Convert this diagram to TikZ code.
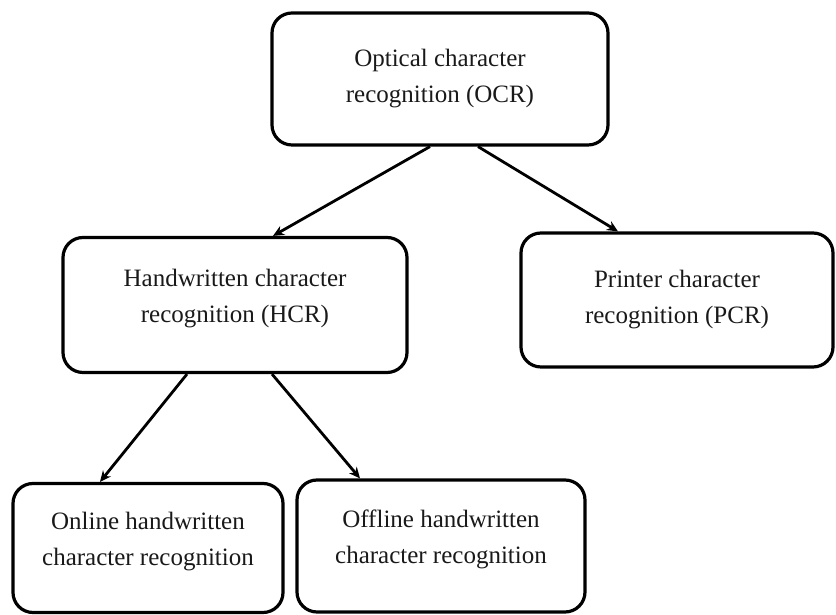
\documentclass[tikz,border=0pt]{standalone}
\usepackage{fontspec}
\setmainfont{Liberation Serif}
\usetikzlibrary{arrows.meta}

\tikzset{
    catbox/.style={draw, line width=3.2pt, rounded corners=20pt, align=center,
        font=\fontsize{25}{36}\selectfont, inner sep=0pt, text=black!90},
    catarrow/.style={line width=2.8pt, -{Stealth[length=11pt,width=10pt]}}
}

\begin{document}
\begin{tikzpicture}[x=1pt,y=1pt]
\useasboundingbox (0,0) rectangle (836,615);
% top level
\node[catbox, minimum width=336pt, minimum height=132pt] (ocr) at (440,536)
    {Optical character\\recognition (OCR)};
% second level
\node[catbox, minimum width=344pt, minimum height=135pt, text depth=19pt] (hcr) at (235,310)
    {Handwritten character\\recognition (HCR)};
\node[catbox, minimum width=312pt, minimum height=134pt] (pcr) at (677,315)
    {Printer character\\recognition (PCR)};
% third level
\node[catbox, minimum width=270pt, minimum height=129pt, text depth=19pt] (online) at (148,67)
    {Online handwritten\\character recognition};
\node[catbox, minimum width=288pt, minimum height=132pt, text depth=19pt] (offline) at (441,69)
    {Offline handwritten\\character recognition};

\draw[catarrow] ([xshift=-10pt]ocr.south) -- ([xshift=38pt]hcr.north);
\draw[catarrow] ([xshift=38pt]ocr.south) -- ([xshift=-59pt]pcr.north);
\draw[catarrow] ([xshift=-48pt]hcr.south) -- ([xshift=-48pt]online.north);
\draw[catarrow] ([xshift=37pt]hcr.south) -- ([xshift=-81pt]offline.north);
\end{tikzpicture}
\end{document}
